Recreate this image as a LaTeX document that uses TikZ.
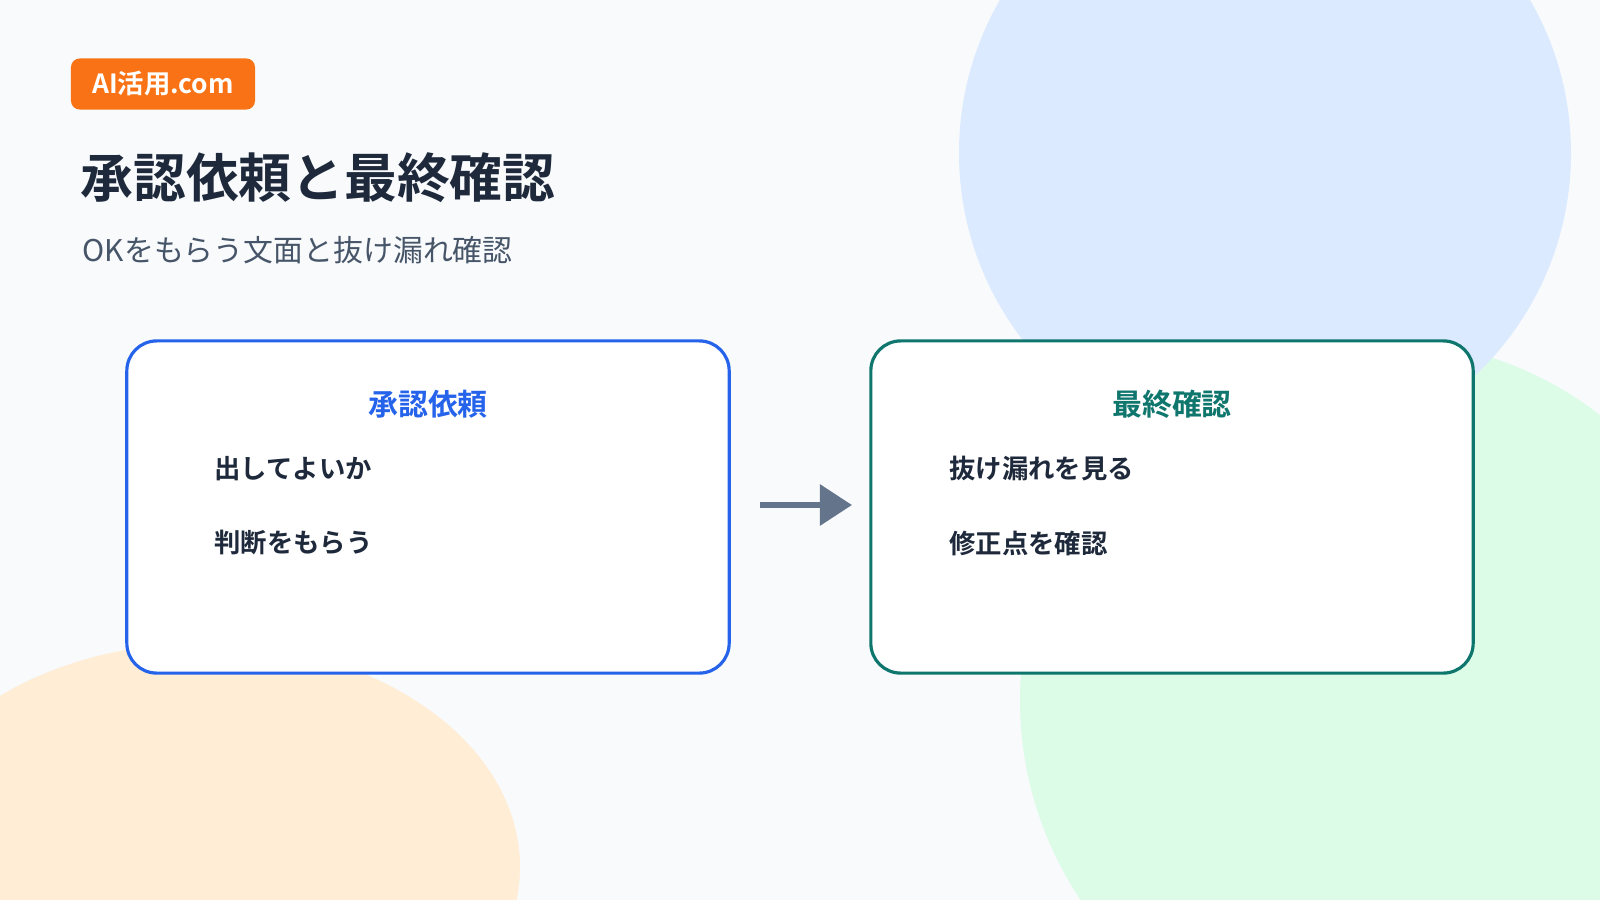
\documentclass[tikz,border=0pt]{standalone}
\usepackage{fontspec}
\setmainfont{Noto Sans CJK JP}
\newfontfamily\jpbold{Noto Sans CJK JP Bold}
\usetikzlibrary{arrows.meta}
\definecolor{bgcol}{HTML}{F8FAFC}
\definecolor{inkdark}{HTML}{1E293B}
\definecolor{inkgray}{HTML}{475569}
\definecolor{badgecol}{HTML}{F97316}
\definecolor{bluecol}{HTML}{2563EB}
\definecolor{greencol}{HTML}{0F766E}
\definecolor{arrowcol}{HTML}{64748B}
\definecolor{blobblue}{HTML}{DBEAFE}
\definecolor{blobgreen}{HTML}{DCFCE7}
\definecolor{blobpeach}{HTML}{FFEDD5}
\tikzset{
  card/.style={draw=#1, line width=0.9pt, rounded corners=8.5pt, fill=white,
    minimum width=6.02cm, minimum height=3.32cm},
  cardtitle/.style={text=#1, font=\jpbold\fontsize{8.5}{10}\selectfont},
  item/.style={anchor=west, text=inkdark, font=\jpbold\fontsize{7.5}{9}\selectfont}
}
\begin{document}
\begin{tikzpicture}[x=0.01cm, y=-0.01cm]

% background and blobs
\fill[bgcol] (0,0) rectangle (1600,900);
\useasboundingbox (0,0) rectangle (1600,900);
\begin{scope}
\clip (0,0) rectangle (1600,900);
\fill[blobgreen] (1380,700) circle (360);
\fill[blobblue] (1265,153) circle (306);
\fill[blobpeach] (204,867) ellipse (316 and 224);
\end{scope}

% header
\node[fill=badgecol, rounded corners=2.5pt, text=white, minimum width=1.84cm, minimum height=0.51cm,
  inner sep=0pt, font=\jpbold\fontsize{7.5}{9}\selectfont] (badge) at (163,84) {AI活用.com};
\node[anchor=west, inner sep=0pt, text=inkdark, font=\jpbold\fontsize{15}{18}\selectfont] (title) at (80,178) {承認依頼と最終確認};
\node[anchor=west, inner sep=0pt, text=inkgray, font=\fontsize{8.5}{10}\selectfont] (sub) at (82,250) {OKをもらう文面と抜け漏れ確認};

% cards
\node[card=bluecol] (left) at (428,507) {};
\node[card=greencol] (right) at (1172,507) {};

\node[cardtitle=bluecol] (lefttitle) at (428,404) {承認依頼};
\node[item] (l1) at (202,469) {出してよいか};
\node[item] (l2) at (202,543) {判断をもらう};

\node[cardtitle=greencol] (righttitle) at (1172,404) {最終確認};
\node[item] (r1) at (937,469) {抜け漏れを見る};
\node[item] (r2) at (937,543) {修正点を確認};

% flow arrow
\coordinate (a0) at (760,505);
\coordinate (a1) at (852,505);
\draw[arrowcol, line width=1.7pt, -{Triangle[length=0.32cm, width=0.4cm]}] (a0) -- (a1);

\end{tikzpicture}
\end{document}
